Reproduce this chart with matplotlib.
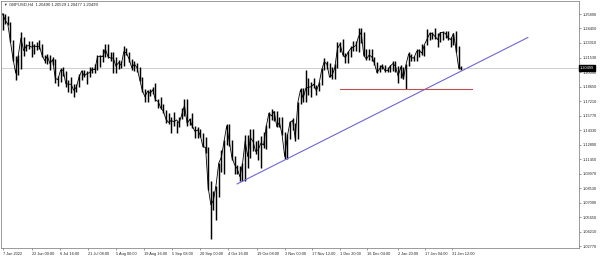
import numpy as np
import matplotlib
matplotlib.use("Agg")
import matplotlib.pyplot as plt
import matplotlib.transforms as mtrans

plt.rcParams['font.family'] = ['Liberation Sans', 'DejaVu Sans']

# daily bars, GBPUSD, 7 Jun 2022 .. 6 Feb 2023 (trading days)
highs = [
    1.2600, 1.2590, 1.2570, 1.2505, 1.2330, 1.2170, 1.2180, 1.2406, 1.2360, 1.2290, 1.2325, 1.2320, 1.2290, 1.2310, 1.2330, 1.2290, 1.2185, 1.2190,
    1.2185, 1.2165, 1.2140, 1.1970, 1.2050, 1.2060, 1.2020, 1.1930, 1.1965, 1.1890, 1.1890, 1.1990, 1.2030, 1.2030, 1.2020, 1.2065, 1.2065, 1.2090, 1.2185, 1.2185, 1.2245,
    1.2290, 1.2295, 1.2210, 1.2210, 1.2165, 1.2130, 1.2125, 1.2275, 1.2250, 1.2210, 1.2140, 1.2125, 1.2100, 1.2060, 1.1960, 1.1845, 1.1830, 1.1845, 1.1860, 1.1900, 1.1745, 1.1760, 1.1690,
    1.1630, 1.1600, 1.1560, 1.1610, 1.1525, 1.1565, 1.1650, 1.1740, 1.1740, 1.1550, 1.1600, 1.1470, 1.1460, 1.1440, 1.1405, 1.1360, 1.1270, 1.0930, 1.0830, 1.0880, 1.1110, 1.1235,
    1.1330, 1.1495, 1.1495, 1.1330, 1.1180, 1.1090, 1.1080, 1.1110, 1.1380, 1.1385, 1.1440, 1.1440, 1.1325, 1.1330, 1.1375, 1.1410, 1.1480, 1.1615, 1.1645, 1.1620, 1.1620,
    1.1560, 1.1560, 1.1410, 1.1390, 1.1520, 1.1555, 1.1500, 1.1710, 1.1855, 1.1850, 1.2030, 1.1950, 1.1915, 1.1950, 1.1880, 1.1910, 1.2050, 1.2155, 1.2120, 1.2100, 1.2060, 1.2090,
    1.2310, 1.2310, 1.2345, 1.2200, 1.2220, 1.2275, 1.2320, 1.2325, 1.2445, 1.2446, 1.2410, 1.2240, 1.2245, 1.2240, 1.2165, 1.2110, 1.2080, 1.2095, 1.2085, 1.2060, 1.2080, 1.2120,
    1.2125, 1.2070, 1.2085, 1.2060, 1.2095, 1.2210, 1.2195, 1.2175, 1.2245, 1.2245, 1.2290, 1.2285, 1.2435, 1.2405, 1.2410, 1.2450, 1.2395, 1.2410, 1.2420, 1.2420, 1.2415, 1.2365,
    1.2400, 1.2415, 1.2270, 1.2075,
]
lows = [
    1.2432, 1.2490, 1.2480, 1.2310, 1.2120, 1.1934, 1.1985, 1.2040, 1.2170, 1.2220, 1.2240, 1.2160, 1.2190, 1.2230, 1.2240, 1.2160, 1.2100, 1.2090,
    1.2030, 1.2080, 1.1900, 1.1875, 1.1910, 1.1970, 1.1860, 1.1810, 1.1805, 1.1760, 1.1810, 1.1860, 1.1930, 1.1960, 1.1890, 1.1960, 1.2000, 1.2000, 1.2035, 1.2065, 1.2110,
    1.2160, 1.2150, 1.2120, 1.2005, 1.2005, 1.2040, 1.2055, 1.2070, 1.2180, 1.2110, 1.2030, 1.2020, 1.2010, 1.1920, 1.1815, 1.1715, 1.1715, 1.1775, 1.1790, 1.1720, 1.1650, 1.1640, 1.1600,
    1.1500, 1.1495, 1.1405, 1.1470, 1.1405, 1.1460, 1.1540, 1.1575, 1.1475, 1.1480, 1.1450, 1.1350, 1.1350, 1.1365, 1.1265, 1.1210, 1.0840, 1.0350, 1.0640, 1.0540, 1.0765, 1.1020,
    1.1000, 1.1290, 1.1280, 1.1140, 1.1000, 1.0995, 1.0925, 1.0925, 1.0925, 1.1060, 1.1160, 1.1230, 1.1200, 1.1140, 1.1060, 1.1260, 1.1250, 1.1450, 1.1530, 1.1520, 1.1460,
    1.1460, 1.1380, 1.1150, 1.1150, 1.1345, 1.1430, 1.1320, 1.1340, 1.1695, 1.1710, 1.1710, 1.1780, 1.1765, 1.1850, 1.1780, 1.1820, 1.1880, 1.2030, 1.2040, 1.1960, 1.1945, 1.1945,
    1.2050, 1.2210, 1.2175, 1.2105, 1.2105, 1.2165, 1.2220, 1.2220, 1.2210, 1.2305, 1.2170, 1.2130, 1.2135, 1.2120, 1.2085, 1.2000, 1.2010, 1.2040, 1.2015, 1.2010, 1.2015, 1.2020,
    1.2015, 1.1900, 1.1950, 1.1940, 1.1841, 1.2075, 1.2125, 1.2120, 1.2120, 1.2160, 1.2180, 1.2170, 1.2280, 1.2330, 1.2340, 1.2345, 1.2265, 1.2315, 1.2330, 1.2350, 1.2335, 1.2265,
    1.2280, 1.2210, 1.2040, 1.2030,
]
closes = [
    1.2590, 1.2530, 1.2490, 1.2315, 1.2140, 1.2000, 1.2180, 1.2350, 1.2225, 1.2270, 1.2275, 1.2260, 1.2270, 1.2265, 1.2265, 1.2180, 1.2125, 1.2170,
    1.2095, 1.2135, 1.1950, 1.1935, 1.2030, 1.2030, 1.1895, 1.1890, 1.1890, 1.1830, 1.1860, 1.1960, 1.2020, 1.1975, 1.1995, 1.2005, 1.2040, 1.2035, 1.2160, 1.2170, 1.2165,
    1.2240, 1.2165, 1.2150, 1.2150, 1.2070, 1.2105, 1.2080, 1.2215, 1.2200, 1.2140, 1.2055, 1.2090, 1.2055, 1.1940, 1.1830, 1.1765, 1.1820, 1.1800, 1.1835, 1.1730, 1.1720, 1.1655, 1.1620,
    1.1540, 1.1510, 1.1530, 1.1515, 1.1535, 1.1505, 1.1590, 1.1680, 1.1500, 1.1540, 1.1470, 1.1420, 1.1435, 1.1380, 1.1270, 1.1260, 1.0860, 1.0690, 1.0735, 1.0890, 1.1105, 1.1165,
    1.1320, 1.1475, 1.1320, 1.1160, 1.1090, 1.1050, 1.0970, 1.1095, 1.1325, 1.1170, 1.1360, 1.1320, 1.1220, 1.1240, 1.1305, 1.1285, 1.1470, 1.1600, 1.1575, 1.1620, 1.1470,
    1.1510, 1.1390, 1.1170, 1.1370, 1.1510, 1.1530, 1.1350, 1.1710, 1.1835, 1.1750, 1.1850, 1.1860, 1.1865, 1.1890, 1.1825, 1.1890, 1.2030, 1.2115, 1.2090, 1.1960, 1.1980, 1.2055,
    1.2245, 1.2290, 1.2185, 1.2155, 1.2205, 1.2245, 1.2260, 1.2275, 1.2365, 1.2405, 1.2175, 1.2140, 1.2180, 1.2165, 1.2100, 1.2005, 1.2045, 1.2075, 1.2025, 1.2025, 1.2070, 1.2095,
    1.2070, 1.1970, 1.2060, 1.1940, 1.2085, 1.2190, 1.2155, 1.2150, 1.2215, 1.2225, 1.2200, 1.2285, 1.2340, 1.2395, 1.2395, 1.2365, 1.2335, 1.2405, 1.2405, 1.2395, 1.2350, 1.2335,
    1.2395, 1.2230, 1.2050, 1.20499,
]

# time axis labels (position in trading days from 7 Jun 2022)
time_ticks = [0, 11, 21.67, 32.33, 43, 53.67, 64.33, 75, 85.67, 96.33, 107, 117.5, 127.83, 138.17, 149.83, 160.17, 170.5]
time_labels = ['7 Jun 2022', '22 Jun 00:00', '6 Jul 16:00', '21 Jul 08:00', '5 Aug 00:00', '19 Aug 16:00',
               '5 Sep 08:00', '20 Sep 00:00', '4 Oct 16:00', '19 Oct 08:00', '3 Nov 00:00', '17 Nov 12:00',
               '1 Dec 20:00', '16 Dec 04:00', '2 Jan 20:00', '17 Jan 04:00', '31 Jan 12:00']
price_ticks = [1.25890, 1.24450, 1.23010, 1.21530, 1.20090, 1.18650, 1.17210, 1.15770, 1.14330,
               1.12890, 1.11450, 1.09970, 1.08530, 1.07090, 1.05650, 1.04210, 1.02770]

last_price = 1.20499
trend_x = [89.0, 199.2]
trend_y = [1.0898, 1.2355]
support_x = [128.0, 177.9]
support_y = [1.1843, 1.1843]

fig = plt.figure(figsize=(6, 2.57), dpi=100)
ax = fig.add_axes([0.5/600, 9/257, 578.5/600, 247/257])

days = np.arange(len(highs))
ax.vlines(days, lows, highs, color='black', lw=1.05)
ax.plot(days, closes, color='black', lw=0.6)

ax.axhline(last_price, color='#c8c8c8', lw=0.6, zorder=0)
ax.plot(trend_x, trend_y, color='#6f66d6', lw=0.8)
ax.plot(support_x, support_y, color='#c05050', lw=0.8)

ax.set_xlim(-0.76, 218.6)
ax.set_ylim(1.0260, 1.27184)

ax.yaxis.tick_right()
ax.set_yticks(price_ticks)
ax.set_yticklabels(['%.5f' % p for p in price_ticks])
ax.set_xticks(time_ticks)
ax.set_xticklabels(time_labels, ha='left')
ax.tick_params(axis='both', direction='out', length=1.5, width=0.5, color='#707070',
               labelsize=2.8, labelcolor='#222222', pad=1)
ax.tick_params(axis='x', pad=1.5)
for s in ax.spines.values():
    s.set_color('#8a8a8a')
    s.set_linewidth(0.6)

trans = mtrans.blended_transform_factory(ax.transAxes, ax.transData)
ax.text(1.002, last_price, '%.5f' % last_price, transform=trans, fontsize=2.8, color='white',
        va='center', ha='left', bbox=dict(boxstyle='square,pad=0.25', fc='black', ec='black'))

fig.text(3/600, 1 - 5/257, '\u25bc', fontsize=2.6, color='#333333', va='center', ha='left')
fig.text(9/600, 1 - 5/257, 'GBPUSD,H4  1.20490 1.20529 1.20477 1.20499', fontsize=3.0,
         color='#222222', va='center', ha='left')

fig.savefig('out.png', dpi=100)
